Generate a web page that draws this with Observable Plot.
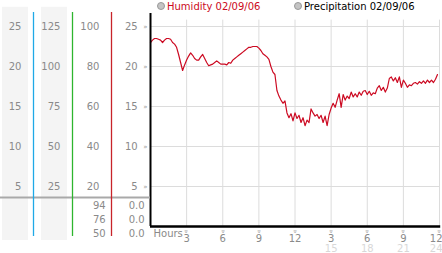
<!DOCTYPE html>
<html>
<head>
<meta charset="utf-8">
<script src="https://cdn.jsdelivr.net/npm/d3@7"></script>
<script src="https://cdn.jsdelivr.net/npm/@observablehq/plot@0.6"></script>
<style>
  html, body { margin: 0; padding: 0; background: #fff; }
  #wrap { position: relative; width: 442px; height: 253px; overflow: hidden; font-family: "DejaVu Sans", Verdana, sans-serif; }
  #wrap svg { position: absolute; top: 0; left: 0; }
  .legend { position: absolute; top: 0px; font-size: 10px; line-height: 13px; white-space: nowrap; }
  .legend .dot { display: inline-block; width: 6px; height: 6px; border-radius: 50%; background: #c4c4c4; border: 1px solid #999; margin-right: 2px; vertical-align: 0px; }
</style>
</head>
<body>
<div id="wrap"></div>
<script>
// ---- data ----
// Humidity readings, one every 10 minutes from 00:00 to 23:50 (02/09/06)
const humidity = [
  23.0, 23.3, 23.5, 23.5, 23.4, 23.3,
  23.0, 23.3, 23.5, 23.5, 23.4, 23.0,
  22.8, 22.4, 21.5, 20.5, 19.5, 20.2,
  20.8, 21.3, 21.7, 21.4, 21.0, 20.8,
  20.8, 21.2, 21.5, 21.0, 20.5, 20.1,
  20.2, 20.3, 20.5, 20.7, 20.5, 20.3,
  20.3, 20.3, 20.2, 20.5, 20.4, 20.8,
  21.0, 21.2, 21.4, 21.6, 21.8, 22.0,
  22.2, 22.4, 22.4, 22.5, 22.5, 22.5,
  22.3, 22.0, 21.6, 21.4, 21.2, 20.9,
  20.0, 19.3, 19.0, 17.0, 16.3, 15.8,
  15.4, 15.7, 14.2, 13.6, 14.1, 13.2,
  14.2, 13.5, 13.9, 13.0, 13.6, 12.6,
  13.3, 13.0, 14.7, 14.2, 13.8, 14.0,
  13.5, 13.9, 13.0, 13.8, 12.6, 14.0,
  14.8, 15.4, 14.9, 15.8, 16.6, 14.9,
  16.5, 15.8, 16.3, 16.0, 16.8, 16.2,
  16.6, 16.2, 16.8, 16.4, 16.9, 17.0,
  16.5, 16.9, 16.4, 16.7, 16.6, 17.3,
  17.6, 17.0, 17.4, 16.8, 17.3, 18.5,
  18.7, 18.2, 18.6, 18.0, 18.7, 17.4,
  18.3, 17.9, 17.4, 17.7, 17.6, 17.9,
  18.0, 17.8, 18.1, 17.9, 18.2, 17.9,
  18.3, 18.0, 18.3, 18.0, 18.4, 19.0
];
const minutesPerReading = 10;

// y-axis ticks of the humidity panel
const yTicks = [5, 10, 15, 20, 25];
// hour ticks along the bottom
const hourTicks = [3, 6, 9, 12, 15, 18, 21, 24];
const hourLabels = ["3", "6", "9", "12", "3", "6", "9", "12"];
const hourLabels24 = ["", "", "", "", "15", "18", "21", "24"];

// left-hand scale columns (labels aligned to the humidity y ticks)
const col1Labels = [5, 10, 15, 20, 25];
const col2Labels = [25, 50, 75, 100, 125];
const col3Labels = [20, 40, 60, 80, 100];
const col4Labels = [5, 10, 15, 20, 25];
const colFactors = [1, 5, 4, 1];
const colRuleColors = ["#1fa9e6", "#2eb52e", "#c8242a"];
// values table under the scales
const tableCol3 = ["94", "76", "50"];
const tableCol4 = ["0.0", "0.0", "0.0"];

const seriesName = "Humidity 02/09/06";
const seriesName2 = "Precipitation 02/09/06";
const seriesColor = "#cc0a22";

// ---- derived ----
const humData = humidity.map((v, i) => ({hour: i * minutesPerReading / 60, value: v}));
const yDomain = [0, 26.625];
const W = 442, H = 253, MT = 13, MB = 27;
const txtGray = "#8a8a8a";
const font = "DejaVu Sans, Verdana, sans-serif";
const isLast = d => d === hourTicks[hourTicks.length - 1];

// ---- main chart ----
const main = Plot.plot({
  width: W, height: H,
  marginLeft: 150, marginRight: 3, marginTop: MT, marginBottom: MB,
  x: {domain: [0, 24], axis: null},
  y: {domain: yDomain, axis: null},
  style: {fontFamily: font, fontSize: "10px", background: "transparent", overflow: "visible"},
  marks: [
    Plot.ruleY(yTicks, {stroke: "#dcdcdc", strokeWidth: 1}),
    Plot.ruleX(hourTicks, {y1: 0, y2: 25.8, stroke: "#dcdcdc", strokeWidth: 1}),
    Plot.line(humData, {x: "hour", y: "value", stroke: seriesColor, strokeWidth: 1.2}),
    Plot.ruleX([0], {y1: 0, y2: yDomain[1], stroke: "#000", strokeWidth: 2}),
    Plot.ruleY([0], {x1: 0, x2: 24.1, stroke: "#000", strokeWidth: 2.5}),
    // y tick glyphs
    Plot.text(yTicks, {x: 0, y: d => d, text: () => "»", dx: -5, fontSize: 7, fill: "#999"}),
    // x tick glyphs
    Plot.text(hourTicks, {x: d => d, y: 0, text: () => "»", dy: 5, fontSize: 7, fill: "#999", rotate: 90}),
    Plot.text(hourTicks.filter(d => !isLast(d)), {x: d => d, y: 0, text: d => hourLabels[hourTicks.indexOf(d)], dy: 12, fill: txtGray, fontSize: 10}),
    Plot.text(hourTicks.filter(isLast), {x: d => d, y: 0, text: d => hourLabels[hourTicks.indexOf(d)], dy: 12, dx: 3, textAnchor: "end", fill: txtGray, fontSize: 10}),
    Plot.text(hourTicks.filter(d => !isLast(d)), {x: d => d, y: 0, text: d => hourLabels24[hourTicks.indexOf(d)], dy: 22, fill: "#d8d8d8", fontSize: 10}),
    Plot.text(hourTicks.filter(isLast), {x: d => d, y: 0, text: d => hourLabels24[hourTicks.indexOf(d)], dy: 22, dx: 3, textAnchor: "end", fill: "#d8d8d8", fontSize: 10}),
    Plot.text(["Hours"], {x: 0, y: 0, text: d => d, dx: 3, dy: 7, textAnchor: "start", fill: txtGray, fontSize: 10})
  ]
});

// ---- left scale panel ----
const colTicks = [col1Labels, col2Labels, col3Labels, col4Labels]
  .flatMap((arr, c) => arr.map(v => ({col: c, label: String(v), y: v / colFactors[c]})));
const tableRows = [
  ...tableCol3.map((t, i) => ({col: 2, row: i, label: t})),
  ...tableCol4.map((t, i) => ({col: 3, row: i, label: t}))
];
const rowY = r => 2.625 - 1.75 * r;

const left = Plot.plot({
  width: 150, height: H,
  marginLeft: 0, marginRight: 0, marginTop: MT, marginBottom: MB,
  x: {domain: [0, 4], range: [-6, 150], axis: null},
  y: {domain: yDomain, axis: null},
  style: {fontFamily: font, fontSize: "10px", background: "transparent", overflow: "visible"},
  marks: [
    Plot.rect([0, 1], {x1: d => d + 0.205, x2: d => d + 0.87, y1: -1.75, y2: 27.4, fill: "#f4f4f4"}),
    Plot.ruleY([3.625], {x1: 0.154, x2: 4, stroke: "#a9a9a9", strokeWidth: 2}),
    ...colRuleColors.map((c, i) => Plot.ruleX([i + 1], {y1: -1.25, y2: 26.75, stroke: c, strokeWidth: 1.3})),
    Plot.text(colTicks, {x: d => d.col + (d.col === 3 ? 0.67 : 0.69), y: "y", text: "label", textAnchor: "end", fill: txtGray, fontSize: 10}),
    Plot.text(tableRows, {x: d => d.col + 0.85, y: d => rowY(d.row), text: "label", textAnchor: "end", fill: txtGray, fontSize: 10})
  ]
});

const wrap = document.getElementById("wrap");
wrap.appendChild(main);
wrap.appendChild(left);

// legend (above the plot area)
const lg1 = document.createElement("div");
lg1.className = "legend";
lg1.style.left = "157px";
lg1.style.color = seriesColor;
lg1.innerHTML = `<span class="dot"></span>${seriesName}`;
const lg2 = document.createElement("div");
lg2.className = "legend";
lg2.style.left = "294px";
lg2.style.color = "#000";
lg2.innerHTML = `<span class="dot"></span>${seriesName2}`;
wrap.appendChild(lg1);
wrap.appendChild(lg2);
</script>
</body>
</html>
